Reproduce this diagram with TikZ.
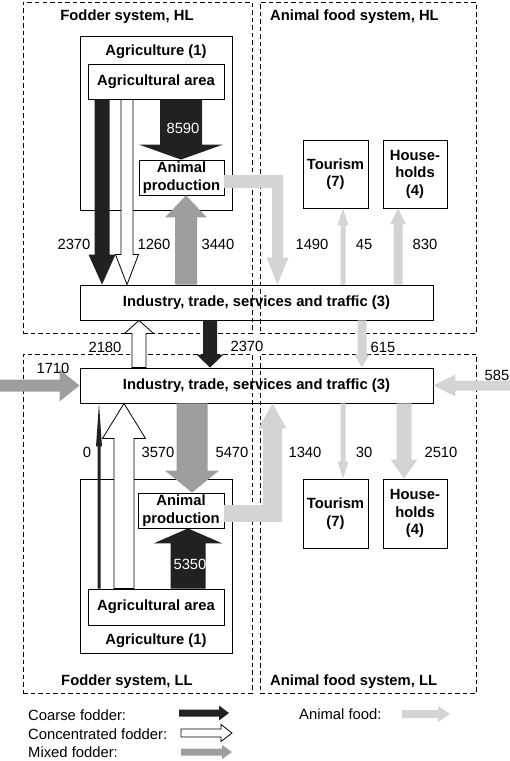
\documentclass[tikz,border=0pt]{standalone}
\usepackage{fontspec}
\setmainfont{Liberation Sans}
\usepackage{tikz}
\usetikzlibrary{calc}
\tikzstyle{every node}=[inner sep=0pt, font=\fontsize{14.8}{17.5}\selectfont]
\tikzstyle{box}=[draw, line width=0.9pt, align=center, font=\fontsize{14.8}{17.5}\selectfont\bfseries]
\tikzstyle{system}=[draw, dashed, dash pattern=on 4.5pt off 3pt, line width=1pt]
\tikzstyle{systitle}=[font=\fontsize{14.8}{17.5}\selectfont\bfseries]
\tikzstyle{num}=[font=\fontsize{14.8}{17.5}\selectfont]
\tikzstyle{coarse}=[fill=black!87]
\tikzstyle{conc}=[fill=white, draw=black, line width=0.8pt]
\tikzstyle{mixed}=[fill=black!38]
\tikzstyle{food}=[fill=black!17]
\tikzset{shaft/.store in=\shaftw, headw/.store in=\headw, headl/.store in=\headl,
  shaft=5pt, headw=10pt, headl=10pt}
% block arrow from #2 to #3
\newcommand{\flow}[3][]{%
  \begin{scope}[#1]
    \coordinate (fb) at ($#3!\headl!#2$);
    \path[#1] ($#2!\shaftw!90:#3$) -- ($(fb)!\shaftw!90:#3$) -- ($(fb)!\headw!90:#3$)
      -- #3 -- ($(fb)!\headw!-90:#3$) -- ($(fb)!\shaftw!-90:#3$) -- ($#2!\shaftw!-90:#3$) -- cycle;
  \end{scope}}

\begin{document}
\begin{tikzpicture}[x=1pt,y=-1pt]
    \useasboundingbox (0,0) rectangle (510,761);
    % systems
    \foreach \name/\pos/\w/\h in {{sf1/(137.5,167.5)/229pt/331pt}, {sa1/(368,167.5)/216pt/331pt},
        {sf2/(137.5,523.5)/229pt/339pt}, {sa2/(368,523.5)/216pt/339pt}}
        \node[system, minimum width=\w, minimum height=\h] (\name) at \pos {};
    \node[systitle] (tf1) at (127,17) {Fodder system, HL};
    \node[systitle, anchor=west] (ta1) at (270,17) {Animal food system, HL};
    \node[systitle] (tf2) at (127,682) {Fodder system, LL};
    \node[systitle, anchor=west] (ta2) at (270,682) {Animal food system, LL};
    % boxes
    \foreach \name/\pos/\w/\h/\txt in {{agr1/(156,123)/152pt/174pt/{}},
        {aa1/(156,81.5)/136pt/35pt/Agricultural area}, {ap1/(181.5,177.5)/85pt/35pt/{Animal\\production}},
        {ind1/(256.5,302.5)/353pt/35pt/{Industry, trade, services and traffic (3)}},
        {tou1/(335.5,174)/65pt/68pt/{Tourism\\(7)}}, {hh1/(415,174)/64pt/68pt/{House-\\holds\\(4)}},
        {ind2/(256.5,385.5)/353pt/35pt/{Industry, trade, services and traffic (3)}},
        {agr2/(156,566)/152pt/174pt/{}},
        {ap2/(181,510.5)/86pt/35pt/{Animal\\production}}, {aa2/(156,607)/136pt/36pt/Agricultural area},
        {tou2/(335.5,513.5)/65pt/69pt/{Tourism\\(7)}}, {hh2/(415,513.5)/64pt/69pt/{House-\\holds\\(4)}}}
        \node[box, minimum width=\w, minimum height=\h] (\name) at \pos {\txt};
    \node[systitle] (agt1) at (156,52) {Agriculture (1)};
    \node[systitle] (agt2) at (156,641) {Agriculture (1)};
    % flows, HL
    \flow[coarse, shaft=21pt, headw=42pt, headl=15pt]{(aa1.south -| 181,0)}{(ap1.north -| 181,0)}
    \flow[coarse, shaft=7.5pt, headw=13.5pt, headl=30pt]{(aa1.south -| 102,0)}{(ind1.north -| 102,0)}
    \flow[conc, shaft=6pt, headw=11.5pt, headl=30pt]{(aa1.south -| 127,0)}{(ind1.north -| 127,0)}
    \flow[mixed, shaft=11pt, headw=21pt, headl=22pt]{(ind1.north -| 186,0)}{(ap1.south -| 186,0)}
    \path[food] (ap1.east |- 0,175) rectangle (283,188);
    \flow[food, shaft=5.5pt, headw=11pt, headl=27pt]{(277.5,175)}{(ind1.north -| 277.5,0)}
    \flow[food, shaft=2.5pt, headw=5.5pt, headl=17pt]{(ind1.north -| 343,0)}{(tou1.south -| 343,0)}
    \flow[food, shaft=4.5pt, headw=8pt, headl=16pt]{(ind1.north -| 398,0)}{(hh1.south -| 398,0)}
    % flows between
    \flow[conc, shaft=7pt, headw=14.5pt, headl=13pt]{(ind2.north -| 139,0)}{(ind1.south -| 139,0)}
    \flow[coarse, shaft=7pt, headw=13.5pt, headl=13pt]{(ind1.south -| 210,0)}{(ind2.north -| 210,0)}
    \flow[food, shaft=4.5pt, headw=7.5pt, headl=13pt]{(ind1.south -| 362,0)}{(ind2.north -| 362,0)}
    \flow[mixed, shaft=6pt, headw=16pt, headl=20pt]{(0,385.5)}{(ind2.west)}
    \flow[food, shaft=5pt, headw=11pt, headl=22pt]{(510,385.5)}{(ind2.east)}
    % flows, LL
    \flow[coarse, shaft=1.5pt, headw=3pt, headl=43pt]{(aa2.north -| 99,0)}{(ind2.south -| 99,0)}
    \flow[conc, shaft=10pt, headw=21.5pt, headl=35pt]{(aa2.north -| 124,0)}{(ind2.south -| 124,0)}
    \flow[mixed, shaft=15.5pt, headw=27pt, headl=22pt]{(ind2.south -| 192,0)}{(ap2.north -| 192,0)}
    \flow[coarse, shaft=17.5pt, headw=34.5pt, headl=15pt]{(aa2.north -| 188,0)}{(ap2.south -| 188,0)}
    \path[food] (ap2.east |- 0,505) rectangle (282,522);
    \flow[food, shaft=9.5pt, headw=14pt, headl=25pt]{(272.5,522)}{(ind2.south -| 272.5,0)}
    \flow[food, shaft=2.5pt, headw=5.5pt, headl=17pt]{(ind2.south -| 343,0)}{(tou2.north -| 343,0)}
    \flow[food, shaft=7.5pt, headw=13.5pt, headl=19pt]{(ind2.south -| 404,0)}{(hh2.north -| 404,0)}
    % numbers
    \foreach \pos/\txt [count=\i] in {{(74,244)/2370}, {(154,244)/1260}, {(218,244)/3440}, {(312,244)/1490},
        {(364,244)/45}, {(425,244)/830}, {(105,347)/2180}, {(247,346)/2370}, {(383,347)/615}, {(53,368)/1710},
        {(497,375)/585}, {(87,452)/0}, {(158,452)/3570}, {(232,452)/5470}, {(305,452)/1340}, {(364,452)/30},
        {(441,452)/2510}}
        \node[num] (n\i) at \pos {\txt};
    \node[num, text=white] (w1) at (183,128) {8590};
    \node[num, text=white] (w2) at (190,564) {5350};
    % legend
    \node[num, anchor=west] (lg1) at (28,715) {Coarse fodder:};
    \node[num, anchor=west] (lg2) at (28,734) {Concentrated fodder:};
    \node[num, anchor=west] (lg3) at (28,752) {Mixed fodder:};
    \node[num, anchor=west] (lg4) at (299,714) {Animal food:};
    \flow[coarse, shaft=3.5pt, headw=7.5pt, headl=10pt]{(179,713)}{(229,713)}
    \flow[conc, shaft=4pt, headw=8.5pt, headl=11pt]{(181,733)}{(232,733)}
    \flow[mixed, shaft=3.5pt, headw=7pt, headl=10pt]{(181,752)}{(232,752)}
    \flow[food, shaft=4pt, headw=8pt, headl=12pt]{(402,714)}{(450,714)}
\end{tikzpicture}
\end{document}
